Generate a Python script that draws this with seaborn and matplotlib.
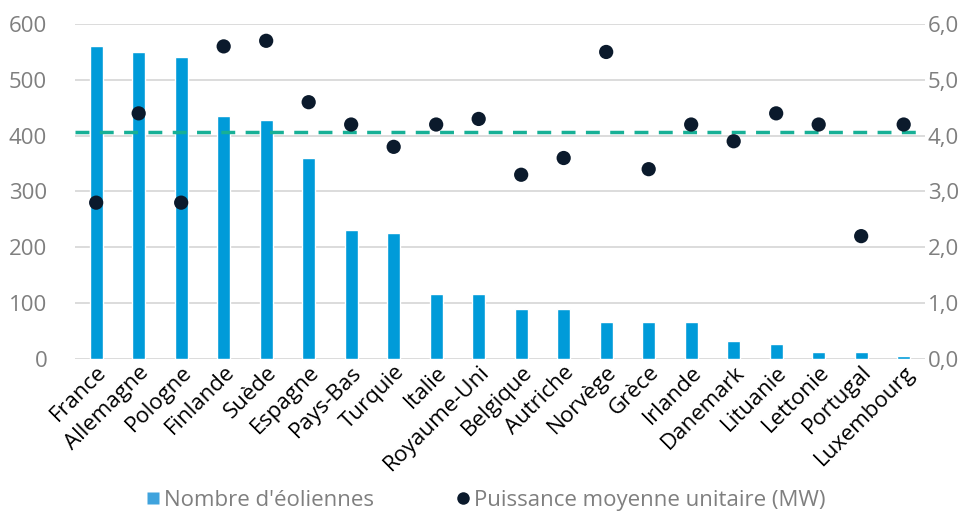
import matplotlib
matplotlib.use("Agg")
import matplotlib.pyplot as plt
import seaborn as sns
import pandas as pd
from matplotlib.lines import Line2D

countries = ["France", "Allemagne", "Pologne", "Finlande", "Suède", "Espagne", "Pays-Bas",
             "Turquie", "Italie", "Royaume-Uni", "Belgique", "Autriche", "Norvège", "Grèce",
             "Irlande", "Danemark", "Lituanie", "Lettonie", "Portugal", "Luxembourg"]
nombre = [560, 550, 541, 435, 428, 360, 231, 226, 116, 116, 90, 89, 66, 66, 66, 32, 27, 13, 12, 5]
puissance = [2.8, 4.4, 2.8, 5.6, 5.7, 4.6, 4.2, 3.8, 4.2, 4.3, 3.3, 3.6, 5.5, 3.4, 4.2, 3.9, 4.4, 4.2, 2.2, 4.2]
moyenne = 4.06
left_ticks = [0, 100, 200, 300, 400, 500, 600]
right_ticks = [0, 1, 2, 3, 4, 5, 6]
right_labels = ["0,0", "1,0", "2,0", "3,0", "4,0", "5,0", "6,0"]

df = pd.DataFrame({"pays": countries, "nombre": nombre, "puissance": puissance})

sns.set_style("white")
plt.rcParams["font.family"] = ["Open Sans", "DejaVu Sans"]

bar_color = "#009BD9"
dot_color = "#0B1A2C"
line_color = "#17B096"
tick_gray = "#7F7F7F"

fig = plt.figure(figsize=(9.73, 5.12), dpi=100)
ax = fig.add_axes([0.077, 0.299, 0.8736, 0.654])
sns.barplot(data=df, x="pays", y="nombre", color=bar_color, width=0.31, ax=ax, saturation=1, zorder=2)
ax.set_ylim(0, 600)
ax.set_yticks(left_ticks)
ax.yaxis.grid(True, color="#D9D9D9", linewidth=1.3, zorder=0)
ax.set_axisbelow(True)
for s in ax.spines.values():
    s.set_visible(False)
ax.set_xlabel("")
ax.set_ylabel("")
ax.tick_params(axis="y", colors=tick_gray, labelsize=16, length=0, pad=20)
ax.tick_params(axis="x", length=0, labelsize=16, labelcolor="black", pad=2)
plt.setp(ax.get_xticklabels(), rotation=45, ha="right", rotation_mode="anchor")
ax.set_xlim(-0.5, len(countries) - 0.5)

ax2 = ax.twinx()
sns.scatterplot(data=df, x="pays", y="puissance", color=dot_color, s=105, ax=ax2, zorder=4, edgecolor="none")
ax2.axhline(moyenne, color=line_color, linestyle=(0, (4, 3)), linewidth=2.5, zorder=3)
ax2.set_ylim(0, 6)
ax2.set_yticks(right_ticks)
ax2.set_yticklabels(right_labels)
ax2.tick_params(axis="y", colors=tick_gray, labelsize=16, length=0, pad=2)
ax2.set_ylabel("")
for s in ax2.spines.values():
    s.set_visible(False)
ax2.set_xlim(-0.5, len(countries) - 0.5)

handles = [Line2D([0], [0], marker="s", color="none", markerfacecolor="#3FA3DD", markeredgecolor="none", markersize=9),
           Line2D([0], [0], marker="o", color="none", markerfacecolor=dot_color, markeredgecolor="none", markersize=9)]
fig.legend(handles, ["Nombre d'éoliennes", "Puissance moyenne unitaire (MW)"], loc="lower center",
           bbox_to_anchor=(0.497, -0.037), ncol=2, frameon=False, fontsize=16, labelcolor=tick_gray,
           handletextpad=0.0, columnspacing=3.5, handlelength=1.0)

fig.savefig("out.png", dpi=100)
